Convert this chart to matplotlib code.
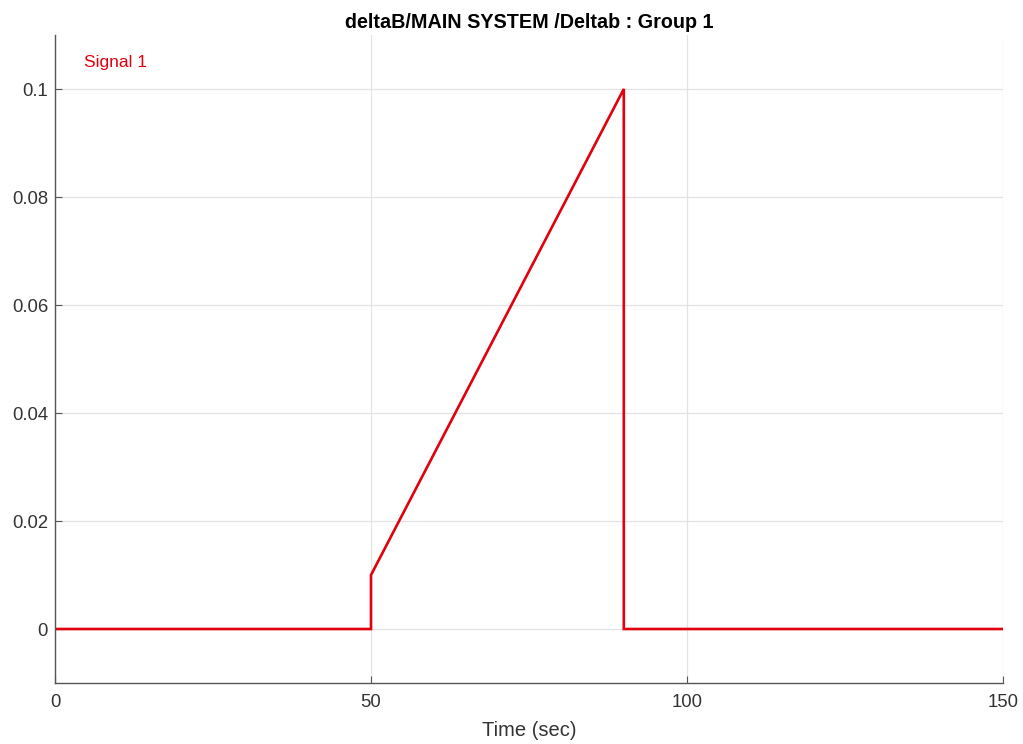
import matplotlib
matplotlib.use("Agg")
import matplotlib.pyplot as plt

time = [0, 50, 50, 90, 90, 150]
signal1 = [0, 0, 0.01, 0.1, 0, 0]
xticks = [0, 50, 100, 150]
yticks = [0, 0.02, 0.04, 0.06, 0.08, 0.1]
ytick_labels = ["0", "0.02", "0.04", "0.06", "0.08", "0.1"]

plt.rcParams['font.family'] = ['Liberation Sans', 'DejaVu Sans']

fig = plt.figure(figsize=(10.23, 7.44), dpi=100)
ax = fig.add_axes([55/1023, 1 - 683/744, (1003-55)/1023, (683-35)/744])

ax.plot(time, signal1, color='#e0000e', lw=1.9, solid_joinstyle='miter')
ax.set_xlim(0, 150)
ax.set_ylim(-0.01, 0.11)
ax.set_xticks(xticks)
ax.set_yticks(yticks)
ax.set_yticklabels(ytick_labels)
ax.grid(True, color='#e3e3e3', lw=0.9)
ax.set_axisbelow(True)
for s in ['top', 'right']:
    ax.spines[s].set_visible(False)
for s in ['left', 'bottom']:
    ax.spines[s].set_color('#555555')
    ax.spines[s].set_linewidth(1.0)
ax.tick_params(direction='in', length=5, colors='#555555', labelcolor='#333333', labelsize=13.3)
ax.tick_params(axis='x', pad=8)
ax.tick_params(axis='y', pad=5)
ax.set_xlabel('Time (sec)', fontsize=14.5, color='#333333', labelpad=7)
ax.set_title('deltaB/MAIN SYSTEM /Deltab : Group 1', fontsize=14.2, fontweight='bold', pad=5)
ax.text(0.031, 0.958, 'Signal 1', transform=ax.transAxes, color='#e0000e', fontsize=12.6, va='center', ha='left')

fig.savefig('out.png', dpi=100)
